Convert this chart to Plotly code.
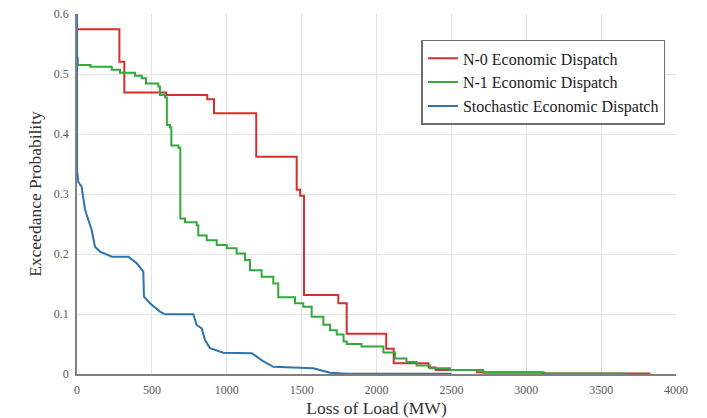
import plotly.graph_objects as go

# N-0 Economic Dispatch (step levels: level starts at x)
n0_x = [0, 283, 316, 595, 870, 915, 1197, 1467, 1490, 1516, 1745, 1801, 2065, 2115, 2348, 2395, 2670, 3110, 3830]
n0_y = [0.5745, 0.5205, 0.469, 0.465, 0.458, 0.4345, 0.362, 0.307, 0.297, 0.1317, 0.118, 0.067, 0.042, 0.018, 0.011, 0.0065, 0.003, 0.001, 0.001]

# N-1 Economic Dispatch
n1_x = [0, 5, 90, 232, 287, 387, 432, 461, 543, 554, 588, 600, 621, 630, 677, 690, 721, 799, 810, 866, 933,
        1000, 1066, 1122, 1155, 1233, 1311, 1344, 1456, 1511, 1567, 1645, 1690, 1734, 1780, 1801, 1900,
        2046, 2124, 2200, 2268, 2357, 2491, 2713, 3125, 3665]
n1_y = [0.527, 0.515, 0.512, 0.507, 0.502, 0.497, 0.493, 0.484, 0.479, 0.465, 0.461, 0.415, 0.411, 0.381, 0.377,
        0.259, 0.253, 0.248, 0.231, 0.223, 0.215, 0.2095, 0.201, 0.19, 0.173, 0.162, 0.151, 0.128, 0.118, 0.112,
        0.0955, 0.082, 0.073, 0.066, 0.054, 0.05, 0.046, 0.036, 0.026, 0.02, 0.014, 0.0095, 0.0065, 0.0022,
        0.0008, 0.0008]

# Stochastic Economic Dispatch
st_x = [0, 0, 9, 31, 42, 53, 65, 98, 120, 154, 232, 343, 399, 432, 443, 447, 487, 554, 588, 777, 799, 833,
        855, 888, 977, 1167, 1240, 1311, 1578, 1690, 1800, 2500]
st_y = [0.6, 0.34, 0.32, 0.312, 0.293, 0.275, 0.265, 0.24, 0.212, 0.204, 0.1955, 0.1955, 0.1845, 0.173, 0.1705,
        0.129, 0.118, 0.104, 0.0995, 0.0995, 0.0817, 0.076, 0.0567, 0.043, 0.0355, 0.0345, 0.022, 0.012,
        0.0095, 0.002, 0.0005, 0.0003]

x_ticks = [0, 500, 1000, 1500, 2000, 2500, 3000, 3500, 4000]
y_ticks = [0, 0.1, 0.2, 0.3, 0.4, 0.5, 0.6]
y_tick_text = ["0", "0.1", "0.2", "0.3", "0.4", "0.5", "0.6"]

FONT = "Liberation Serif"

fig = go.Figure()
fig.add_trace(go.Scatter(x=n0_x, y=n0_y, mode="lines", line_shape="hv",
                         line=dict(color="#d3302c", width=2), name="N-0 Economic Dispatch"))
fig.add_trace(go.Scatter(x=n1_x, y=n1_y, mode="lines", line_shape="hv",
                         line=dict(color="#34a83a", width=2), name="N-1 Economic Dispatch"))
fig.add_trace(go.Scatter(x=st_x, y=st_y, mode="lines",
                         line=dict(color="#2c74b0", width=2), name="Stochastic Economic Dispatch"))

fig.update_layout(
    width=699, height=410,
    margin=dict(l=69, r=31, t=6, b=44, autoexpand=False),
    paper_bgcolor="white", plot_bgcolor="white",
    font=dict(family=FONT, color="#333333"),
    legend=dict(x=0.575, y=0.928, xanchor="left", yanchor="top",
                bordercolor="#6e6e6e", borderwidth=1.5, bgcolor="white",
                font=dict(family=FONT, size=16, color="#222222"),
                tracegroupgap=0, itemwidth=30),
    showlegend=True,
)
fig.update_xaxes(range=[0, 4000], tickvals=x_ticks, ticktext=[str(v) for v in x_ticks],
                 showgrid=True, gridcolor="#e3e3e3", gridwidth=1, automargin=False,
                 ticklabeloverflow="allow", ticklabelstandoff=4,
                 showline=True, linecolor="#808080", linewidth=1.5,
                 zeroline=False, ticks="", tickfont=dict(family=FONT, size=12, color="#595959"),
                 title=dict(text="Loss of Load (MW)", font=dict(family=FONT, size=17.5, color="#333333"), standoff=7))
fig.update_yaxes(range=[0, 0.6], tickvals=y_ticks, ticktext=y_tick_text,
                 showgrid=True, gridcolor="#e3e3e3", gridwidth=1, automargin=False,
                 ticklabeloverflow="allow", ticklabelstandoff=4,
                 showline=True, linecolor="#808080", linewidth=1.5,
                 zeroline=False, ticks="", tickfont=dict(family=FONT, size=12, color="#595959"),
                 title=dict(text="Exceedance Probability", font=dict(family=FONT, size=17.5, color="#333333"), standoff=8))

fig.write_html("out.html")
